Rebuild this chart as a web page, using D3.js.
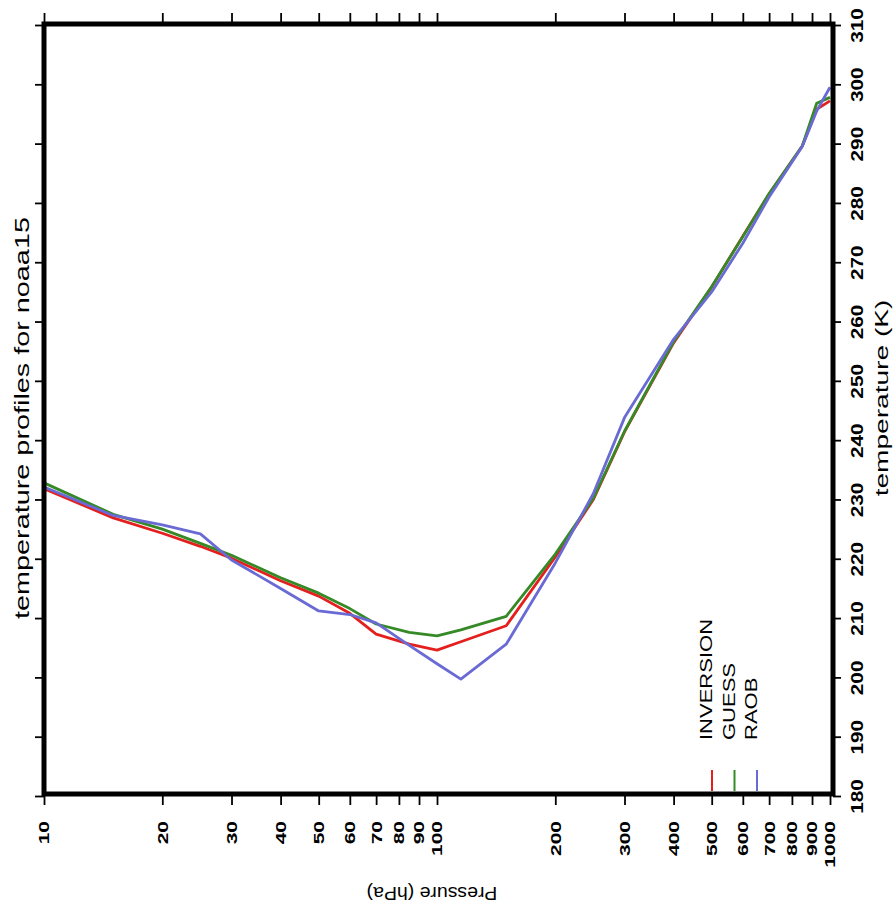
<!DOCTYPE html>
<html>
<head>
<meta charset="utf-8">
<script src="https://cdn.jsdelivr.net/npm/d3@7"></script>
<style>
  body { margin: 0; background: #fff; }
  svg { display: block; font-family: "Liberation Sans", Arial, sans-serif; }
</style>
</head>
<body>
<div id="wrapper"></div>
<script>
// pressure levels (hPa) and temperatures (K)
const pressureLevels = [10, 15, 20, 25, 30, 40, 50, 60, 70, 85, 100, 115, 150, 200, 250, 300, 400, 500, 600, 700, 850, 925, 1000]
const inversionTemps = [231.8, 226.9, 224.3, 222.1, 220.1, 216.3, 213.7, 210.8, 207.3, 205.6, 204.6, 206.0, 208.7, 220.3, 230.0, 241.4, 256.4, 265.8, 274.4, 281.5, 289.6, 295.8, 297.2]
const guessTemps = [232.8, 227.5, 225.0, 222.6, 220.6, 216.8, 214.2, 211.6, 209.0, 207.6, 207.0, 208.0, 210.3, 220.8, 230.2, 241.5, 256.6, 265.9, 274.3, 281.6, 289.6, 296.8, 297.8]
const raobTemps = [232.1, 227.3, 225.7, 224.2, 219.8, 215.0, 211.2, 210.6, 209.2, 205.4, 202.3, 199.7, 205.6, 219.3, 231.0, 243.8, 257.0, 265.0, 273.2, 281.0, 289.5, 295.5, 299.5]

const seriesNames = ["INVERSION", "GUESS", "RAOB"]
const pressureTicks = [10, 20, 30, 40, 50, 60, 70, 80, 90, 100, 200, 300, 400, 500, 600, 700, 800, 900, 1000]
const temperatureTicks = [180, 190, 200, 210, 220, 230, 240, 250, 260, 270, 280, 290, 300, 310]

const titleText = "temperature profiles for noaa15"
const xLabelText = "Pressure (hPa)"
const yLabelText = "temperature (K)"

const colors = ["#e4201f", "#358a27", "#6a6ad4"]

// the scanned figure is stretched along the page height, so rotated text gets stretched too
function stretch(selection, factor) {
  selection.each(function () {
    const natural = this.getComputedTextLength()
    d3.select(this)
      .attr("textLength", natural * factor)
      .attr("lengthAdjust", "spacingAndGlyphs")
  })
}

function drawChart() {
  // 1. dimensions
  let dimensions = {
    width: 896,
    height: 914,
    margins: {
      top: 24,
      right: 63,
      bottom: 120,
      left: 44,
    },
  }
  dimensions.boundedWidth = dimensions.width - dimensions.margins.left - dimensions.margins.right
  dimensions.boundedHeight = dimensions.height - dimensions.margins.top - dimensions.margins.bottom

  // 2. canvas
  const wrapper = d3.select("#wrapper")
    .append("svg")
    .attr("width", dimensions.width)
    .attr("height", dimensions.height)

  const bounds = wrapper.append("g")
    .attr("transform", `translate(${dimensions.margins.left}, ${dimensions.margins.top})`)

  // 3. scales
  const xScale = d3.scaleLog()
    .domain([10, 1000])
    .range([0, dimensions.boundedWidth - 3])

  const yScale = d3.scaleLinear()
    .domain([180, 310])
    .range([dimensions.boundedHeight + 2, 1])

  // 4. data
  const temps = [inversionTemps, guessTemps, raobTemps]
  const series = seriesNames.map((name, i) => ({
    name,
    color: colors[i],
    values: pressureLevels.map((p, j) => ({ p, t: temps[i][j] })),
  }))

  const lineGenerator = d3.line()
    .x(d => xScale(d.p))
    .y(d => yScale(d.t))

  bounds.append("g")
    .selectAll("path")
    .data(series)
    .join("path")
    .attr("d", d => lineGenerator(d.values))
    .attr("fill", "none")
    .attr("stroke", d => d.color)
    .attr("stroke-width", 2.8)
    .attr("stroke-linejoin", "round")

  // 5. axes
  const styleTicks = axis => {
    axis.attr("font-family", null).attr("font-size", null)
    axis.select(".domain").remove()
    axis.selectAll(".tick line").attr("stroke", "#000").attr("stroke-width", 1.8)
  }

  const xAxis = bounds.append("g")
    .attr("transform", `translate(0, ${dimensions.boundedHeight})`)
    .call(d3.axisBottom(xScale).tickValues(pressureTicks).tickFormat(d3.format("d")).tickSize(11))
    .call(styleTicks)

  xAxis.selectAll(".tick text")
    .attr("y", null)
    .attr("dy", "0.35em")
    .attr("transform", "translate(0, 27) rotate(-90)")
    .attr("text-anchor", "end")
    .attr("fill", "#000")
    .style("font-size", "14px")
    .style("font-weight", "bold")
    .call(stretch, 1.5)

  bounds.append("g")
    .call(d3.axisTop(xScale).tickValues(pressureTicks).tickFormat("").tickSize(11))
    .call(styleTicks)

  const yAxis = bounds.append("g")
    .attr("transform", `translate(${dimensions.boundedWidth}, 0)`)
    .call(d3.axisRight(yScale).tickValues(temperatureTicks).tickSize(8))
    .call(styleTicks)

  yAxis.selectAll(".tick text")
    .attr("x", null)
    .attr("dy", null)
    .attr("transform", "translate(30, 0) rotate(-90)")
    .attr("text-anchor", "middle")
    .attr("fill", "#000")
    .style("font-size", "17px")
    .style("font-weight", "bold")
    .call(stretch, 1.22)

  bounds.append("g")
    .call(d3.axisLeft(yScale).tickValues(temperatureTicks).tickFormat("").tickSize(9))
    .call(styleTicks)

  // frame
  bounds.append("rect")
    .attr("width", dimensions.boundedWidth)
    .attr("height", dimensions.boundedHeight)
    .attr("fill", "none")
    .attr("stroke", "#000")
    .attr("stroke-width", 5)

  // 6. legend (drawn sideways like the rest of the page)
  const legendX = d3.scalePoint()
    .domain(seriesNames)
    .range([668, 713])

  const legend = bounds.append("g")
    .selectAll("g")
    .data(series)
    .join("g")
    .attr("transform", d => `translate(${legendX(d.name)}, 0)`)

  legend.append("line")
    .attr("y1", dimensions.boundedHeight - 24)
    .attr("y2", dimensions.boundedHeight - 3)
    .attr("stroke", d => d.color)
    .attr("stroke-width", 2)

  legend.append("text")
    .attr("transform", `translate(0, ${dimensions.boundedHeight - 54}) rotate(-90)`)
    .attr("text-anchor", "start")
    .style("font-size", "16px")
    .text(d => d.name)
    .call(stretch, 1.375)

  // 7. labels
  wrapper.append("text")
    .attr("transform", "translate(29, 418) rotate(-90)")
    .attr("text-anchor", "middle")
    .style("font-size", "20px")
    .text(titleText)
    .call(stretch, 1.44)

  wrapper.append("text")
    .attr("transform", "translate(888, 398) rotate(-90)")
    .attr("text-anchor", "middle")
    .style("font-size", "18px")
    .text(yLabelText)
    .call(stretch, 1.56)

  wrapper.append("text")
    .attr("transform", "translate(432, 887) rotate(180)")
    .attr("text-anchor", "middle")
    .style("font-size", "18px")
    .text(xLabelText)
    .call(stretch, 1.08)
}
drawChart()
</script>
</body>
</html>
